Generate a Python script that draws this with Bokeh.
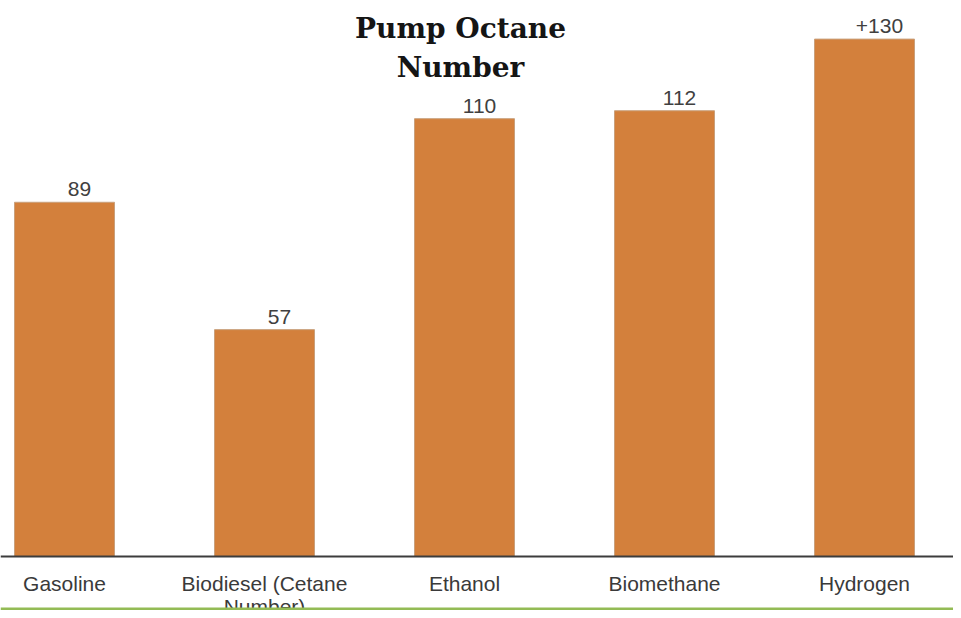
from bokeh.plotting import figure
from bokeh.models import ColumnDataSource, Span, Label, Range1d
from bokeh.core.properties import value
from bokeh.embed import file_html
from bokeh.resources import INLINE

categories = ["Gasoline", "Biodiesel (Cetane\nNumber)", "Ethanol", "Biomethane", "Hydrogen"]
values = [89, 57, 110, 112, 130]
value_labels = ["89", "57", "110", "112", "+130"]
title_lines = ["Pump Octane", "Number"]

W, H = 953, 610
px_per_unit = 3.98
base_px = 556  # baseline distance from top of figure
x_start = -0.32
x_end = x_start + W / 200.0
y_end = base_px / px_per_unit
y_start = -(H - base_px) / px_per_unit

idx = list(range(len(categories)))
src = ColumnDataSource(dict(x=idx, top=values, cat=categories, lab=value_labels))

p = figure(width=W, height=H, output_backend="svg", toolbar_location=None,
           x_range=Range1d(x_start, x_end), y_range=Range1d(y_start, y_end),
           min_border=0, min_border_left=0, min_border_right=0,
           min_border_top=0, min_border_bottom=0)
p.axis.visible = False
p.grid.visible = False
p.outline_line_color = None
p.background_fill_color = "white"
p.border_fill_color = "white"

p.vbar(x="x", top="top", bottom=0, width=0.5, source=src,
       fill_color="#d3803c", line_color="#c9a07c", line_width=1)

p.add_layout(Span(location=0, dimension="width", line_color="#3c3c3c", line_width=2))

p.text(x="x", y="top", text="lab", source=src, x_offset=15, y_offset=-13,
       text_align="center", text_baseline="alphabetic",
       text_font=value("Liberation Sans"), text_font_size="21px", text_color="#404040")

p.text(x="x", y=0, text="cat", source=src, y_offset=15,
       text_align="center", text_baseline="top", text_line_height=1.02,
       text_font=value("Liberation Sans"), text_font_size="21px", text_color="#3a3a3a")

# green band at the bottom
p.add_layout(Span(location=y_start + 0.4, dimension="width", line_color="#93bb55", line_width=3))

title_y = [(base_px - 28) / px_per_unit, (base_px - 67) / px_per_unit]
for t, ty in zip(title_lines, title_y):
    p.add_layout(Label(x=2, y=ty, x_offset=-4, text=t, text_align="center",
                       text_baseline="alphabetic", text_font="DejaVu Serif",
                       text_font_style="bold", text_font_size="28px", text_color="#151515"))

open("out.html", "w").write(file_html(p, INLINE))
